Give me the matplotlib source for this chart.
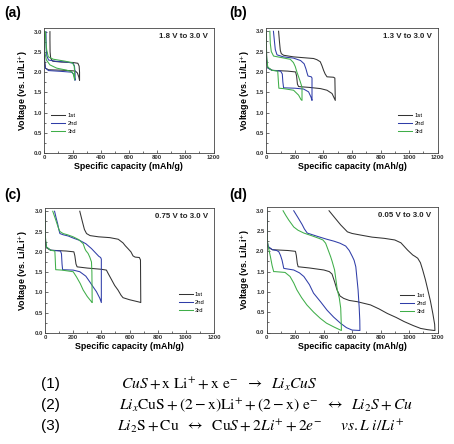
import matplotlib
matplotlib.use("Agg")
from matplotlib import pyplot as plt
from matplotlib.ticker import MultipleLocator

# ---- data (capacity in mAh/g, voltage in V) ----
# each cycle = discharge (left to right) then charge (back to the left)
cycles = ["1st", "2nd", "3rd"]
ranges = ["1.8 V to 3.0 V", "1.3 V to 3.0 V", "0.75 V to 3.0 V", "0.05 V to 3.0 V"]
panel_names = ["(a)", "(b)", "(c)", "(d)"]

a_cap_1 = [0, 2, 8, 30, 120, 220, 235, 245, 250, 250, 247, 238, 200, 120, 60, 45, 41, 40, 40]
a_v_1 = [3.0, 2.3, 2.1, 2.06, 2.05, 2.03, 1.98, 1.88, 1.8, 2.0, 2.15, 2.22, 2.24, 2.25, 2.27, 2.35, 2.5, 2.8, 3.0]
a_cap_2 = [0, 2, 8, 30, 120, 195, 208, 215, 218, 218, 214, 205, 160, 80, 30, 18, 13, 12]
a_v_2 = [3.0, 2.25, 2.1, 2.04, 2.02, 2.0, 1.95, 1.86, 1.8, 2.0, 2.15, 2.22, 2.25, 2.27, 2.3, 2.4, 2.6, 3.0]
a_cap_3 = [0, 3, 15, 40, 88, 159, 194, 205, 210, 215, 215, 212, 200, 150, 64, 28, 17, 10, 7]
a_v_3 = [3.0, 2.5, 2.3, 2.18, 2.1, 2.05, 2.01, 1.96, 1.89, 1.81, 2.0, 2.15, 2.23, 2.27, 2.32, 2.38, 2.55, 2.8, 3.0]

b_cap_1 = [0, 2, 10, 40, 150, 205, 212, 218, 226, 300, 380, 425, 460, 471, 483,
           483, 480, 470, 425, 412, 401, 390, 378, 355, 331, 191, 121, 105, 98, 92, 86]
b_v_1 = [3.0, 2.3, 2.1, 2.04, 2.02, 2.0, 1.9, 1.7, 1.64, 1.62, 1.59, 1.55, 1.47, 1.39, 1.3,
         1.3, 1.85, 1.87, 1.88, 1.95, 2.04, 2.15, 2.25, 2.3, 2.33, 2.37, 2.41, 2.45, 2.53, 2.75, 3.0]
b_cap_2 = [0, 2, 10, 40, 100, 112, 116, 121, 200, 261, 296, 313, 320,
           320, 315, 292, 285, 278, 265, 240, 190, 120, 75, 63, 57, 50]
b_v_2 = [3.0, 2.3, 2.1, 2.04, 2.02, 1.95, 1.75, 1.61, 1.6, 1.58, 1.51, 1.38, 1.3,
         1.85, 1.88, 1.9, 1.98, 2.07, 2.2, 2.28, 2.34, 2.37, 2.42, 2.55, 2.75, 3.0]
b_cap_3 = [0, 2, 10, 40, 80, 84, 88, 120, 191, 226, 243, 250,
           250, 245, 236, 226, 214, 203, 190, 168, 110, 51, 35, 28, 25]
b_v_3 = [3.0, 2.4, 2.12, 2.04, 2.02, 1.8, 1.6, 1.59, 1.55, 1.43, 1.32, 1.3,
         1.62, 1.68, 1.78, 1.88, 2.0, 2.13, 2.23, 2.31, 2.35, 2.39, 2.5, 2.7, 3.0]

c_cap_1 = [0, 2, 10, 40, 150, 205, 212, 220, 228, 300, 400, 436, 448, 470, 495, 518, 540, 554, 600, 672, 680,
           678, 670, 640, 625, 610, 589, 570, 554, 520, 460, 380, 320, 295, 280, 265, 247]
c_v_1 = [3.0, 2.3, 2.1, 2.04, 2.02, 2.0, 1.9, 1.7, 1.63, 1.6, 1.57, 1.55, 1.47, 1.33, 1.17, 1.06, 0.93, 0.87, 0.82, 0.76, 0.75,
         1.8, 1.86, 1.87, 1.9, 2.0, 2.08, 2.15, 2.22, 2.31, 2.35, 2.37, 2.4, 2.45, 2.55, 2.75, 3.0]
c_cap_2 = [0, 2, 10, 40, 110, 117, 121, 125, 200, 247, 290, 318, 345, 365, 390, 400,
           400, 395, 382, 360, 330, 290, 247, 200, 165, 130, 106, 98, 90, 78, 68]
c_v_2 = [3.0, 2.3, 2.12, 2.04, 2.02, 1.95, 1.7, 1.56, 1.55, 1.51, 1.4, 1.26, 1.12, 1.02, 0.85, 0.75,
         1.82, 1.86, 1.89, 1.97, 2.08, 2.2, 2.28, 2.34, 2.39, 2.42, 2.45, 2.55, 2.69, 2.85, 3.0]
c_cap_3 = [0, 2, 10, 40, 70, 73, 76, 120, 200, 224, 250, 271, 300, 330, 335,
           333, 330, 318, 306, 290, 283, 271, 240, 200, 160, 129, 106, 94, 75, 55]
c_v_3 = [3.0, 2.4, 2.12, 2.04, 2.02, 1.8, 1.56, 1.55, 1.51, 1.38, 1.22, 1.06, 0.9, 0.77, 0.75,
         1.5, 1.75, 1.87, 1.96, 2.03, 2.08, 2.2, 2.3, 2.37, 2.42, 2.45, 2.5, 2.6, 2.8, 3.0]

d_cap_1 = [0, 2, 10, 40, 150, 202, 208, 215, 221, 300, 402, 440, 459, 477, 494, 515, 541, 580, 635, 729, 790,
           847, 910, 965, 1030, 1082, 1130, 1176, 1182,
           1180, 1167, 1150, 1132, 1115, 1096, 1080, 1061, 1040, 1026, 990, 943, 900, 826, 740, 661, 600, 567, 545,
           520, 480, 438]
d_v_1 = [3.0, 2.3, 2.1, 2.04, 2.02, 2.0, 1.9, 1.7, 1.62, 1.59, 1.54, 1.5, 1.44, 1.25, 1.05, 0.9, 0.84, 0.79, 0.76, 0.68, 0.58,
         0.47, 0.37, 0.27, 0.17, 0.10, 0.07, 0.05, 0.05,
         0.2, 0.47, 0.78, 1.05, 1.3, 1.54, 1.72, 1.83, 1.88, 1.91, 2.03, 2.21, 2.28, 2.32, 2.35, 2.40, 2.44, 2.48, 2.56,
         2.65, 2.82, 3.0]
d_cap_2 = [0, 2, 10, 40, 70, 85, 97, 108, 120, 190, 230, 261, 300, 329, 380, 424, 470, 518, 560, 600, 655,
           654, 650, 642, 635, 626, 614, 602, 580, 555, 515, 473, 420, 355, 320, 285, 265, 249, 220, 190]
d_v_2 = [3.0, 2.3, 2.12, 2.04, 2.02, 1.99, 1.9, 1.78, 1.58, 1.54, 1.47, 1.38, 1.18, 0.97, 0.75, 0.55, 0.38, 0.23, 0.12, 0.06, 0.05,
         0.3, 0.6, 1.05, 1.3, 1.62, 1.78, 1.87, 2.02, 2.13, 2.2, 2.25, 2.3, 2.37, 2.41, 2.45, 2.55, 2.66, 2.83, 3.0]
d_cap_3 = [0, 2, 8, 15, 26, 38, 49, 59, 129, 164, 190, 212, 245, 282, 330, 376, 420, 470, 518, 525,
           523, 520, 510, 496, 477, 460, 449, 430, 414, 395, 367, 320, 261, 220, 190, 155, 135, 115]
d_v_3 = [3.0, 2.4, 2.15, 2.05, 1.87, 1.65, 1.5, 1.5, 1.48, 1.38, 1.22, 1.05, 0.86, 0.68, 0.5, 0.35, 0.23, 0.14, 0.06, 0.05,
         0.3, 0.6, 0.85, 1.05, 1.54, 1.75, 1.87, 2.05, 2.2, 2.28, 2.32, 2.38, 2.45, 2.52, 2.6, 2.77, 2.88, 3.0]

eq_nums = ["(1)", "(2)", "(3)"]
equations = [
    r"$CuS + \mathrm{x\ Li^{+}} + \mathrm{x\ e^{-}}\ \ \rightarrow\ \ Li_{x}CuS$",
    r"$Li_{x}\mathrm{CuS} + \mathrm{(2-x)Li^{+}} + \mathrm{(2-x)\ e^{-}}\ \ \leftrightarrow\ \ Li_{2}S + Cu$",
    r"$Li_{2}\mathrm{S} + \mathrm{Cu}\ \ \leftrightarrow\ \ \mathrm{Cu}S + 2Li^{+} + 2e^{-}\quad\ \ vs.L\ i/Li^{+}$",
]

colors = ["#333333", "#2f3da8", "#3fae49"]
font = "Liberation Sans"

plt.rcParams['font.family'] = [font, 'DejaVu Sans']

W, H = 454, 444
fig = plt.figure(figsize=(W / 100, H / 100), dpi=100)

# axes boxes in pixels: left, top, right, bottom
boxes = [(44.3, 28.4, 213.5, 153.3), (266.3, 28.0, 437.7, 153.3),
         (45.0, 208.0, 214.0, 333.0), (266.7, 207.5, 437.5, 332.5)]
letter_pos = [(4, 13), (229, 13), (4, 195), (229, 195)]
legend_anchor = [(0.04, 0.32), (0.77, 0.32), (0.79, 0.33), (0.78, 0.32)]

panels = [
    [(a_cap_1, a_v_1), (a_cap_2, a_v_2), (a_cap_3, a_v_3)],
    [(b_cap_1, b_v_1), (b_cap_2, b_v_2), (b_cap_3, b_v_3)],
    [(c_cap_1, c_v_1), (c_cap_2, c_v_2), (c_cap_3, c_v_3)],
    [(d_cap_1, d_v_1), (d_cap_2, d_v_2), (d_cap_3, d_v_3)],
]


def draw_panel(i):
    l, t, r, b = boxes[i]
    ax = fig.add_axes([l / W, 1 - b / H, (r - l) / W, (b - t) / H])
    for k in range(3):
        cap, v = panels[i][k]
        ax.plot(cap, v, color=colors[k], lw=0.75, label=cycles[k])
    ax.set_xlim(0, 1200)
    ax.set_ylim(0, 3.08)
    ax.xaxis.set_minor_locator(MultipleLocator(100))
    ax.yaxis.set_minor_locator(MultipleLocator(0.25))
    ax.tick_params(which='both', direction='in', width=0.5, colors='#333333', labelsize=4.3, pad=1.5)
    ax.tick_params(which='major', length=2)
    ax.tick_params(which='minor', length=1.2)
    ax.set_xticks(range(0, 1201, 200))
    ax.set_yticks([0, 0.5, 1.0, 1.5, 2.0, 2.5, 3.0])
    ax.set_yticklabels(["0.0", "0.5", "1.0", "1.5", "2.0", "2.5", "3.0"])
    for lab in ax.get_xticklabels() + ax.get_yticklabels():
        lab.set_fontweight('bold')
    for s in ax.spines.values():
        s.set_linewidth(0.6)
        s.set_color('#444444')
    ax.set_xlabel("Specific capacity (mAh/g)", fontsize=6.4, fontweight='bold', labelpad=1.5)
    ax.set_ylabel("Voltage (vs. Li/Li$^{+}$)", fontsize=6.4, fontweight='bold', labelpad=3)
    ax.text(0.965, 0.935, ranges[i], transform=ax.transAxes, ha='right', va='center',
            fontsize=5.7, fontweight='bold', color='#222222')
    ax.legend(loc='upper left', bbox_to_anchor=legend_anchor[i], frameon=False, fontsize=4.2,
              handlelength=2.4, handletextpad=0.4, labelspacing=0.5, borderpad=0, borderaxespad=0)
    x, y = letter_pos[i]
    fig.text(x / W, 1 - y / H, panel_names[i], fontsize=10, fontweight='bold', ha='left', va='center')
    return ax


for i in range(4):
    draw_panel(i)

eq_y = [384, 405, 426]
eq_x = [120.7, 119.3, 117.0]
for k in range(3):
    fig.text(50 / W, 1 - eq_y[k] / H, eq_nums[k], fontsize=11, ha='center', va='center')
    fig.text(eq_x[k] / W, 1 - eq_y[k] / H, equations[k], fontsize=11.2, ha='left', va='center',
             math_fontfamily='stix')

fig.savefig("out.png", dpi=100)
